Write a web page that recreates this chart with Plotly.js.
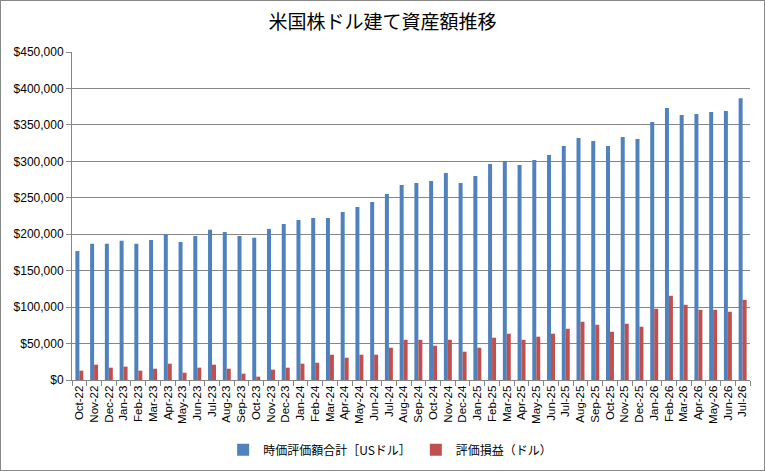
<!DOCTYPE html>
<html>
<head>
<meta charset="utf-8">
<script src="https://cdn.plot.ly/plotly-3.0.1.min.js"></script>
<style>
  body { margin: 0; background: #fff; }
  #chart { width: 765px; height: 471px; border: 1px solid #888; box-sizing: border-box; }
</style>
</head>
<body>
<div id="chart"></div>
<script>
var months = [
  "Oct-22", "Nov-22", "Dec-22", "Jan-23", "Feb-23", "Mar-23", "Apr-23", "May-23",
  "Jun-23", "Jul-23", "Aug-23", "Sep-23", "Oct-23", "Nov-23", "Dec-23", "Jan-24",
  "Feb-24", "Mar-24", "Apr-24", "May-24", "Jun-24", "Jul-24", "Aug-24", "Sep-24",
  "Oct-24", "Nov-24", "Dec-24", "Jan-25", "Feb-25", "Mar-25", "Apr-25", "May-25",
  "Jun-25", "Jul-25", "Aug-25", "Sep-25", "Oct-25", "Nov-25", "Dec-25", "Jan-26",
  "Feb-26", "Mar-26", "Apr-26", "May-26", "Jun-26", "Jul-26"
]

// 時価評価額合計 (USD)
var marketValue = [
  177000, 187000, 187000, 191000, 187000, 192000, 200000, 189500,
  197700, 206000, 203000, 197700, 195000, 207300, 214000, 219600,
  222400, 222400, 230600, 237400, 244300, 255200, 267600, 270300,
  273000, 284000, 270300, 280000, 296300, 300400, 295000, 301800,
  308700, 321000, 332000, 327800, 321000, 333300, 330600, 353900,
  373000, 363500, 364800, 367600, 368900, 386700
]

// 評価損益 (USD)
var gainLoss = [
  12800, 21000, 16900, 18300, 12800, 15500, 22400, 10000,
  16900, 21000, 15500, 8700, 4600, 14200, 16900, 22400,
  23700, 34700, 30600, 34700, 34700, 44300, 55200, 55200,
  47000, 55200, 38800, 44300, 58000, 63500, 55200, 59400,
  63500, 70300, 79900, 75800, 66200, 77200, 73100, 97700,
  115500, 103200, 96300, 96300, 93600, 110000
]

var seriesNames = ["時価評価額合計［USドル］", "評価損益（ドル）"]

var data = [
  {
    type: "bar",
    name: seriesNames[0],
    x: months,
    y: marketValue,
    marker: { color: "#4F81BD" },
  },
  {
    type: "bar",
    name: seriesNames[1],
    x: months,
    y: gainLoss,
    marker: { color: "#C0504D" },
  },
]

var fontFamily = "Liberation Sans, Noto Sans CJK JP, sans-serif"

var layout = {
  width: 763,
  height: 469,
  margin: { t: 51, r: 14, l: 71, b: 90 },
  paper_bgcolor: "#fff",
  plot_bgcolor: "#fff",
  barmode: "group",
  bargap: 0.46,
  bargroupgap: 0,
  title: {
    text: "米国株ドル建て資産額推移",
    font: { family: "Noto Sans CJK JP, sans-serif", size: 19, color: "#000" },
    xref: "container",
    yref: "container",
    x: 0.5,
    y: 0.955,
    xanchor: "center",
    yanchor: "middle",
  },
  xaxis: {
    type: "category",
    tickangle: -90,
    tickfont: { family: fontFamily, size: 11.5, color: "#000" },
    showline: true,
    linecolor: "#868686",
    ticks: "outside",
    tickson: "boundaries",
    ticklen: 5,
    tickcolor: "#868686",
    showgrid: false,
    automargin: false,
  },
  yaxis: {
    range: [0, 450000],
    dtick: 50000,
    tickformat: "$,.0f",
    tickfont: { family: fontFamily, size: 12, color: "#000" },
    showline: true,
    linecolor: "#868686",
    ticks: "outside",
    ticklen: 5,
    tickcolor: "#868686",
    gridcolor: "#868686",
    gridwidth: 1,
    zeroline: false,
    automargin: false,
  },
  showlegend: true,
  legend: {
    orientation: "h",
    xref: "container",
    yref: "container",
    x: 0.51,
    y: 0.043,
    xanchor: "center",
    yanchor: "middle",
    font: { family: "Noto Sans CJK JP, sans-serif", size: 12, color: "#000" },
    itemwidth: 30,
  },
}

Plotly.newPlot("chart", data, layout, { displayModeBar: false })
</script>
</body>
</html>
